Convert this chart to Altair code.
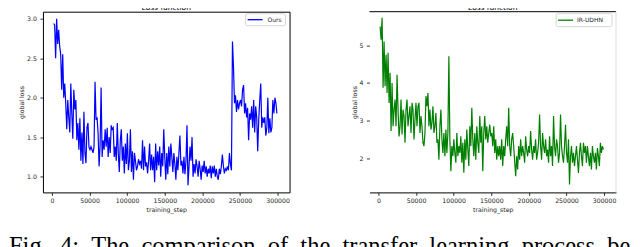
import altair as alt
import numpy as np
import pandas as pd

# ---------------- data ----------------
ours_loss = [
    2.94, 2.92, 2.5, 3.0, 2.68, 2.86, 2.65, 2.55, 2.1, 2.55,
    2.0, 2.18, 1.93, 1.6, 1.97, 1.75, 1.56, 2.18, 1.8, 1.48,
    2.1, 1.85, 1.97, 1.46, 1.68, 1.34, 1.74, 1.2, 1.56, 1.16,
    1.82, 1.3, 1.17, 1.62, 1.68, 1.37, 1.34, 1.38, 1.34, 1.3,
    1.38, 2.2, 1.72, 1.75, 1.55, 1.13, 1.4, 2.13, 1.25, 1.46,
    1.34, 1.6, 1.38, 1.62, 1.25, 1.5, 1.3, 1.65, 1.6, 1.62,
    1.25, 1.38, 1.2, 1.68, 1.3, 1.06, 1.46, 1.6, 1.2, 1.38,
    1.04, 1.42, 1.16, 1.55, 1.08, 1.2, 1.6, 1.06, 1.32, 0.96,
    1.3, 1.2, 1.08, 1.13, 1.22, 1.16, 1.2, 1.1, 1.46, 1.08,
    1.38, 1.13, 1.18, 1.04, 1.2, 1.42, 1.08, 1.28, 1.08, 1.25,
    0.93, 1.42, 1.08, 1.32, 1.14, 1.38, 1.0, 1.3, 1.13, 1.6,
    1.25, 0.96, 1.3, 1.03, 1.38, 1.13, 1.42, 1.25, 1.06, 1.3,
    1.16, 0.96, 1.25, 1.08, 1.3, 1.52, 1.14, 1.2, 1.04, 1.25,
    1.03, 1.2, 1.65, 0.89, 1.13, 1.38, 1.2, 1.5, 1.0, 1.16,
    1.04, 1.22, 1.13, 1.0, 1.2, 1.1, 0.96, 1.14, 1.06, 1.2,
    1.04, 1.13, 1.0, 1.1, 1.04, 1.14, 0.98, 1.13, 1.04, 1.14,
    1.0, 1.1, 1.0, 0.96, 1.1, 1.03, 1.13, 1.28, 1.14, 1.04,
    1.1, 1.08, 1.13, 1.08, 1.3, 1.16, 1.08, 2.71, 2.4, 1.93,
    2.03, 1.82, 1.97, 1.85, 1.93, 1.97, 1.89, 2.1, 2.16, 1.8,
    1.93, 1.75, 1.87, 1.46, 1.8, 1.72, 1.89, 1.62, 1.97, 1.56,
    1.89, 1.75, 1.32, 1.72, 1.97, 2.18, 1.62, 1.75, 1.68, 1.75,
    1.52, 1.62, 2.0, 1.55, 1.74, 1.56, 1.62, 1.97, 1.8, 2.0,
    1.93, 1.8,
]

irudhn_loss = [
    5.5, 5.15, 5.73, 3.87, 5.1, 3.91, 4.75, 3.73, 4.8, 3.47, 4.27, 2.72,
    4.0, 2.85, 3.29, 3.56, 2.85, 4.22, 3.29, 2.58, 2.85, 3.56,
    2.63, 3.29, 3.12, 2.41, 3.29, 3.56, 2.85, 3.12, 3.38, 2.67,
    3.47, 3.29, 2.5, 3.03, 3.47, 2.85, 3.38, 3.47, 2.67, 3.12,
    2.85, 2.41, 2.32, 2.67, 3.65, 3.38, 3.73, 2.85, 3.29, 2.76,
    2.94, 3.38, 2.67, 2.85, 3.2, 2.41, 2.5, 1.96, 2.85, 3.29,
    2.5, 2.14, 2.67, 2.05, 2.76, 2.14, 2.67, 4.71, 2.5, 1.65,
    2.32, 2.05, 2.5, 2.14, 1.88, 2.67, 2.05, 2.32, 2.14, 2.58,
    1.88, 2.41, 1.61, 2.5, 1.96, 2.76, 2.23, 1.79, 2.85, 2.32,
    3.34, 2.5, 2.05, 2.67, 1.96, 2.85, 2.41, 2.14, 3.12, 2.41,
    2.85, 1.65, 2.67, 3.12, 2.5, 2.85, 2.41, 2.67, 2.89, 2.58,
    2.67, 2.32, 2.85, 2.14, 2.5, 1.96, 2.32, 2.05, 2.32, 1.96,
    2.5, 1.79, 2.32, 2.05, 2.5, 2.85, 2.32, 3.34, 2.32, 2.05,
    2.5, 2.67, 2.32, 1.92, 1.52, 2.05, 1.7, 2.32, 1.96, 2.5,
    2.05, 2.32, 2.14, 1.88, 2.58, 2.23, 2.05, 2.32, 2.14, 2.72,
    2.23, 1.96, 2.32, 2.14, 2.5, 1.96, 2.14, 2.41, 3.16, 2.32,
    1.96, 2.67, 2.32, 2.14, 2.5, 2.05, 2.23, 1.88, 2.58, 2.05,
    2.32, 1.79, 3.12, 2.32, 2.05, 2.5, 2.32, 1.88, 2.14, 3.16,
    2.32, 2.05, 1.88, 2.32, 2.89, 2.14, 1.88, 2.5, 1.3, 2.05,
    2.32, 1.88, 2.14, 1.79, 2.05, 2.32, 1.96, 1.61, 2.14, 2.41,
    2.05, 1.79, 2.41, 2.14, 2.32, 1.88, 2.32, 2.05, 1.79, 2.14,
    1.7, 2.32, 2.05, 1.88, 2.14, 1.7, 2.27, 2.05, 1.79, 2.41,
    2.14, 2.32, 2.23,
]

# logging grid of the training steps (first / last logged step)
first_step, last_step = 2200, 299100
ours_steps = np.linspace(first_step, last_step, len(ours_loss)).round()
ir_steps = np.linspace(first_step, last_step, len(irudhn_loss)).round()

x_ticks = [0, 50000, 100000, 150000, 200000, 250000, 300000]
ours_yticks = [1.0, 1.5, 2.0, 2.5, 3.0]
ir_yticks = [2, 3, 4, 5]
ours_label = "Ours"
ir_label = "IR-UDHN"
panel_title = "Loss function"
x_title = "training_step"
y_title = "global loss"
NB = "\u00a0"
caption_words = ["Fig.", "4:", "The", "comparison", "of", "the", "transfer",
                 "learning", "process", "be"]
caption = (NB * 2).join(caption_words)

# ---------------- styling ----------------
FONT = "DejaVu Sans"
W, H = 247, 181
one = pd.DataFrame({"k": [0]})


def x_enc(domain_line=False):
    return alt.X(
        "step:Q",
        scale=alt.Scale(domain=[-12000, 315900], nice=False, zero=False),
        axis=alt.Axis(values=x_ticks, format="d", title=x_title, grid=False,
                      domain=domain_line, domainColor="#000", domainWidth=1,
                      tickSize=3, tickColor="#000", tickWidth=0.8,
                      labelFont=FONT, labelFontSize=6.2, labelColor="#222",
                      labelPadding=2, labelFlush=False,
                      titleFont=FONT, titleFontSize=6.2, titleFontWeight="normal",
                      titleColor="#222", titlePadding=3),
    )


def y_enc(dom, ticks, fmt):
    return alt.Y(
        "loss:Q",
        scale=alt.Scale(domain=dom, nice=False, zero=False),
        axis=alt.Axis(values=ticks, format=fmt, title=y_title, grid=False,
                      domain=False, tickSize=3, tickColor="#000", tickWidth=0.8,
                      labelFont=FONT, labelFontSize=6.2, labelColor="#222",
                      labelPadding=3.5,
                      titleFont=FONT, titleFontSize=6.2, titleFontWeight="normal",
                      titleColor="#222", titlePadding=2),
    )


def legend(x0, x1, y0, y1, lx0, lx1, ly, tx, label, color):
    box = alt.Chart(one).mark_rect(fill="white", stroke="#cccccc", strokeWidth=0.8,
                                   cornerRadius=1.5).encode(
        x=alt.value(x0), x2=alt.value(x1), y=alt.value(y0), y2=alt.value(y1))
    line = alt.Chart(one).mark_rule(color=color, strokeWidth=1.3).encode(
        x=alt.value(lx0), x2=alt.value(lx1), y=alt.value(ly))
    text = alt.Chart(one).mark_text(align="left", baseline="middle", font=FONT,
                                    fontSize=6, color="#222").encode(
        x=alt.value(tx), y=alt.value(ly), text=alt.value(label))
    return [box, line, text]


def title_mark():
    return alt.Chart(one).mark_text(align="center", baseline="alphabetic", font=FONT,
                                    fontSize=7.5, color="#000").encode(
        x=alt.value(W / 2), y=alt.value(-1.5), text=alt.value(panel_title))


# left panel
ours_df = pd.DataFrame({"step": ours_steps, "loss": ours_loss})
ours_line = alt.Chart(ours_df).mark_line(color="#0000ff", strokeWidth=1.2).encode(
    x=x_enc(), y=y_enc([0.80, 3.089], ours_yticks, ".1f"))
cap = alt.Chart(one).mark_text(align="left", baseline="alphabetic",
                               font="Liberation Serif", fontSize=24.5,
                               color="#000").encode(
    x=alt.value(-34), y=alt.value(243), text=alt.value(caption))
left = alt.layer(
    ours_line,
    *legend(203, 243, 2, 14, 205, 220, 8, 225, ours_label, "#0000ff"),
    title_mark(),
    cap,
).properties(width=W, height=H,
             view=alt.ViewBackground(stroke="#000", strokeWidth=1))

# right panel
ir_df = pd.DataFrame({"step": ir_steps, "loss": irudhn_loss})
ir_line = alt.Chart(ir_df).mark_line(color="#008000", strokeWidth=1.2).encode(
    x=x_enc(True), y=y_enc([1.09, 5.894], ir_yticks, "d"))
top_rule = alt.Chart(one).mark_rule(color="#000", strokeWidth=1).encode(
    x=alt.value(0), x2=alt.value(W), y=alt.value(0))
right_rule = alt.Chart(one).mark_rule(color="#dddddd", strokeWidth=1).encode(
    x=alt.value(W), y=alt.value(0), y2=alt.value(H))
right = alt.layer(
    ir_line, top_rule, right_rule,
    *legend(187, 243, 2, 15, 189, 204, 8.5, 208, ir_label, "#008000"),
    title_mark(),
).properties(width=W, height=H,
             view=alt.ViewBackground(stroke=None))

chart = alt.hconcat(left, right, spacing=80, bounds="flush").properties(
    padding={"left": 0, "top": -4.5, "right": 0, "bottom": 0},
    background="white",
).configure_view(strokeWidth=1)

chart.save("out.html", embed_options={"renderer": "svg", "actions": False})
